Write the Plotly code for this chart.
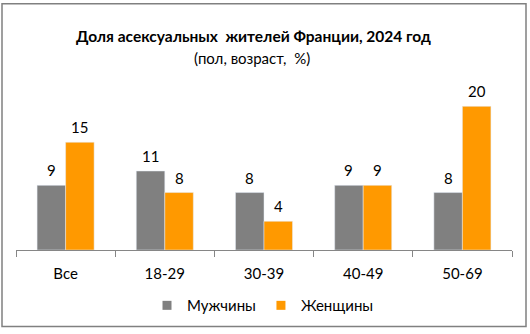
import plotly.graph_objects as go

categories = ["Все", "18-29", "30-39", "40-49", "50-69"]
men = [9, 11, 8, 9, 8]
women = [15, 8, 4, 9, 20]
series_names = ["Мужчины", "Женщины"]
title_text = "Доля асексуальных  жителей Франции, 2024 год"
subtitle_text = "(пол, возраст,  %)"

GRAY = "#808080"
ORANGE = "#FF9900"
FONT = "Lato"

W, H = 530, 334
ml, mr, mt, mb = 16, 18, 92, 80
pw, ph = W - ml - mr, H - mt - mb

fig = go.Figure()
fig.add_trace(go.Bar(x=categories, y=men, name=series_names[0], marker_color=GRAY, showlegend=False))
fig.add_trace(go.Bar(x=categories, y=women, name=series_names[1], marker_color=ORANGE, showlegend=False))
# legend entries with small square swatches
for nm, col in zip(series_names, (GRAY, ORANGE)):
    fig.add_trace(go.Scatter(x=[None], y=[None], mode="markers", name=nm,
                             marker=dict(symbol="square", size=9, color=col)))

bargap = 0.425
half = (1 - bargap) / 4 * (pw / len(categories))
annotations = []
for vals, sh in ((men, -half), (women, half)):
    for c, v in zip(categories, vals):
        annotations.append(dict(x=c, y=v, xref="x", yref="y", text=str(v), showarrow=False,
                                xshift=sh, yshift=15, yanchor="middle",
                                font=dict(family=FONT, size=15, color="#000000")))
annotations.append(dict(x=(253 - ml) / pw, y=(mt + ph - 35) / ph, xref="paper", yref="paper",
                        text="<b>" + title_text + "</b>", showarrow=False,
                        xanchor="center", yanchor="middle",
                        font=dict(family=FONT, size=15.5, color="#000000")))
annotations.append(dict(x=(252 - ml) / pw, y=(mt + ph - 57) / ph, xref="paper", yref="paper",
                        text=subtitle_text, showarrow=False,
                        xanchor="center", yanchor="middle",
                        font=dict(family=FONT, size=15, color="#000000")))

def px_x(v):
    return (v - ml) / pw

def px_y(v):
    return (mt + ph - v) / ph

fig.update_layout(
    width=W, height=H,
    margin=dict(l=ml, r=mr, t=mt, b=mb),
    paper_bgcolor="white", plot_bgcolor="white",
    barmode="group", bargap=bargap, bargroupgap=0,
    showlegend=True,
    legend=dict(orientation="h", x=px_x(263), y=px_y(311), xanchor="center", yanchor="middle",
                font=dict(family=FONT, size=15, color="#000000"), itemwidth=30,
                traceorder="normal"),
    xaxis=dict(showline=True, linecolor="#868686", linewidth=1, ticks="outside",
               tickson="boundaries", ticklen=6, tickcolor="#868686", showgrid=False,
               ticklabelstandoff=10,
               tickfont=dict(family=FONT, size=15, color="#000000")),
    yaxis=dict(range=[0, 22], visible=False, showgrid=False),
    annotations=annotations,
    shapes=[dict(type="rect", xref="paper", yref="paper",
                 x0=px_x(2), x1=px_x(526), y0=px_y(332.5), y1=px_y(1.5),
                 line=dict(color="#808080", width=1.5), fillcolor="rgba(0,0,0,0)", layer="below")],
)

fig.write_html("out.html")
